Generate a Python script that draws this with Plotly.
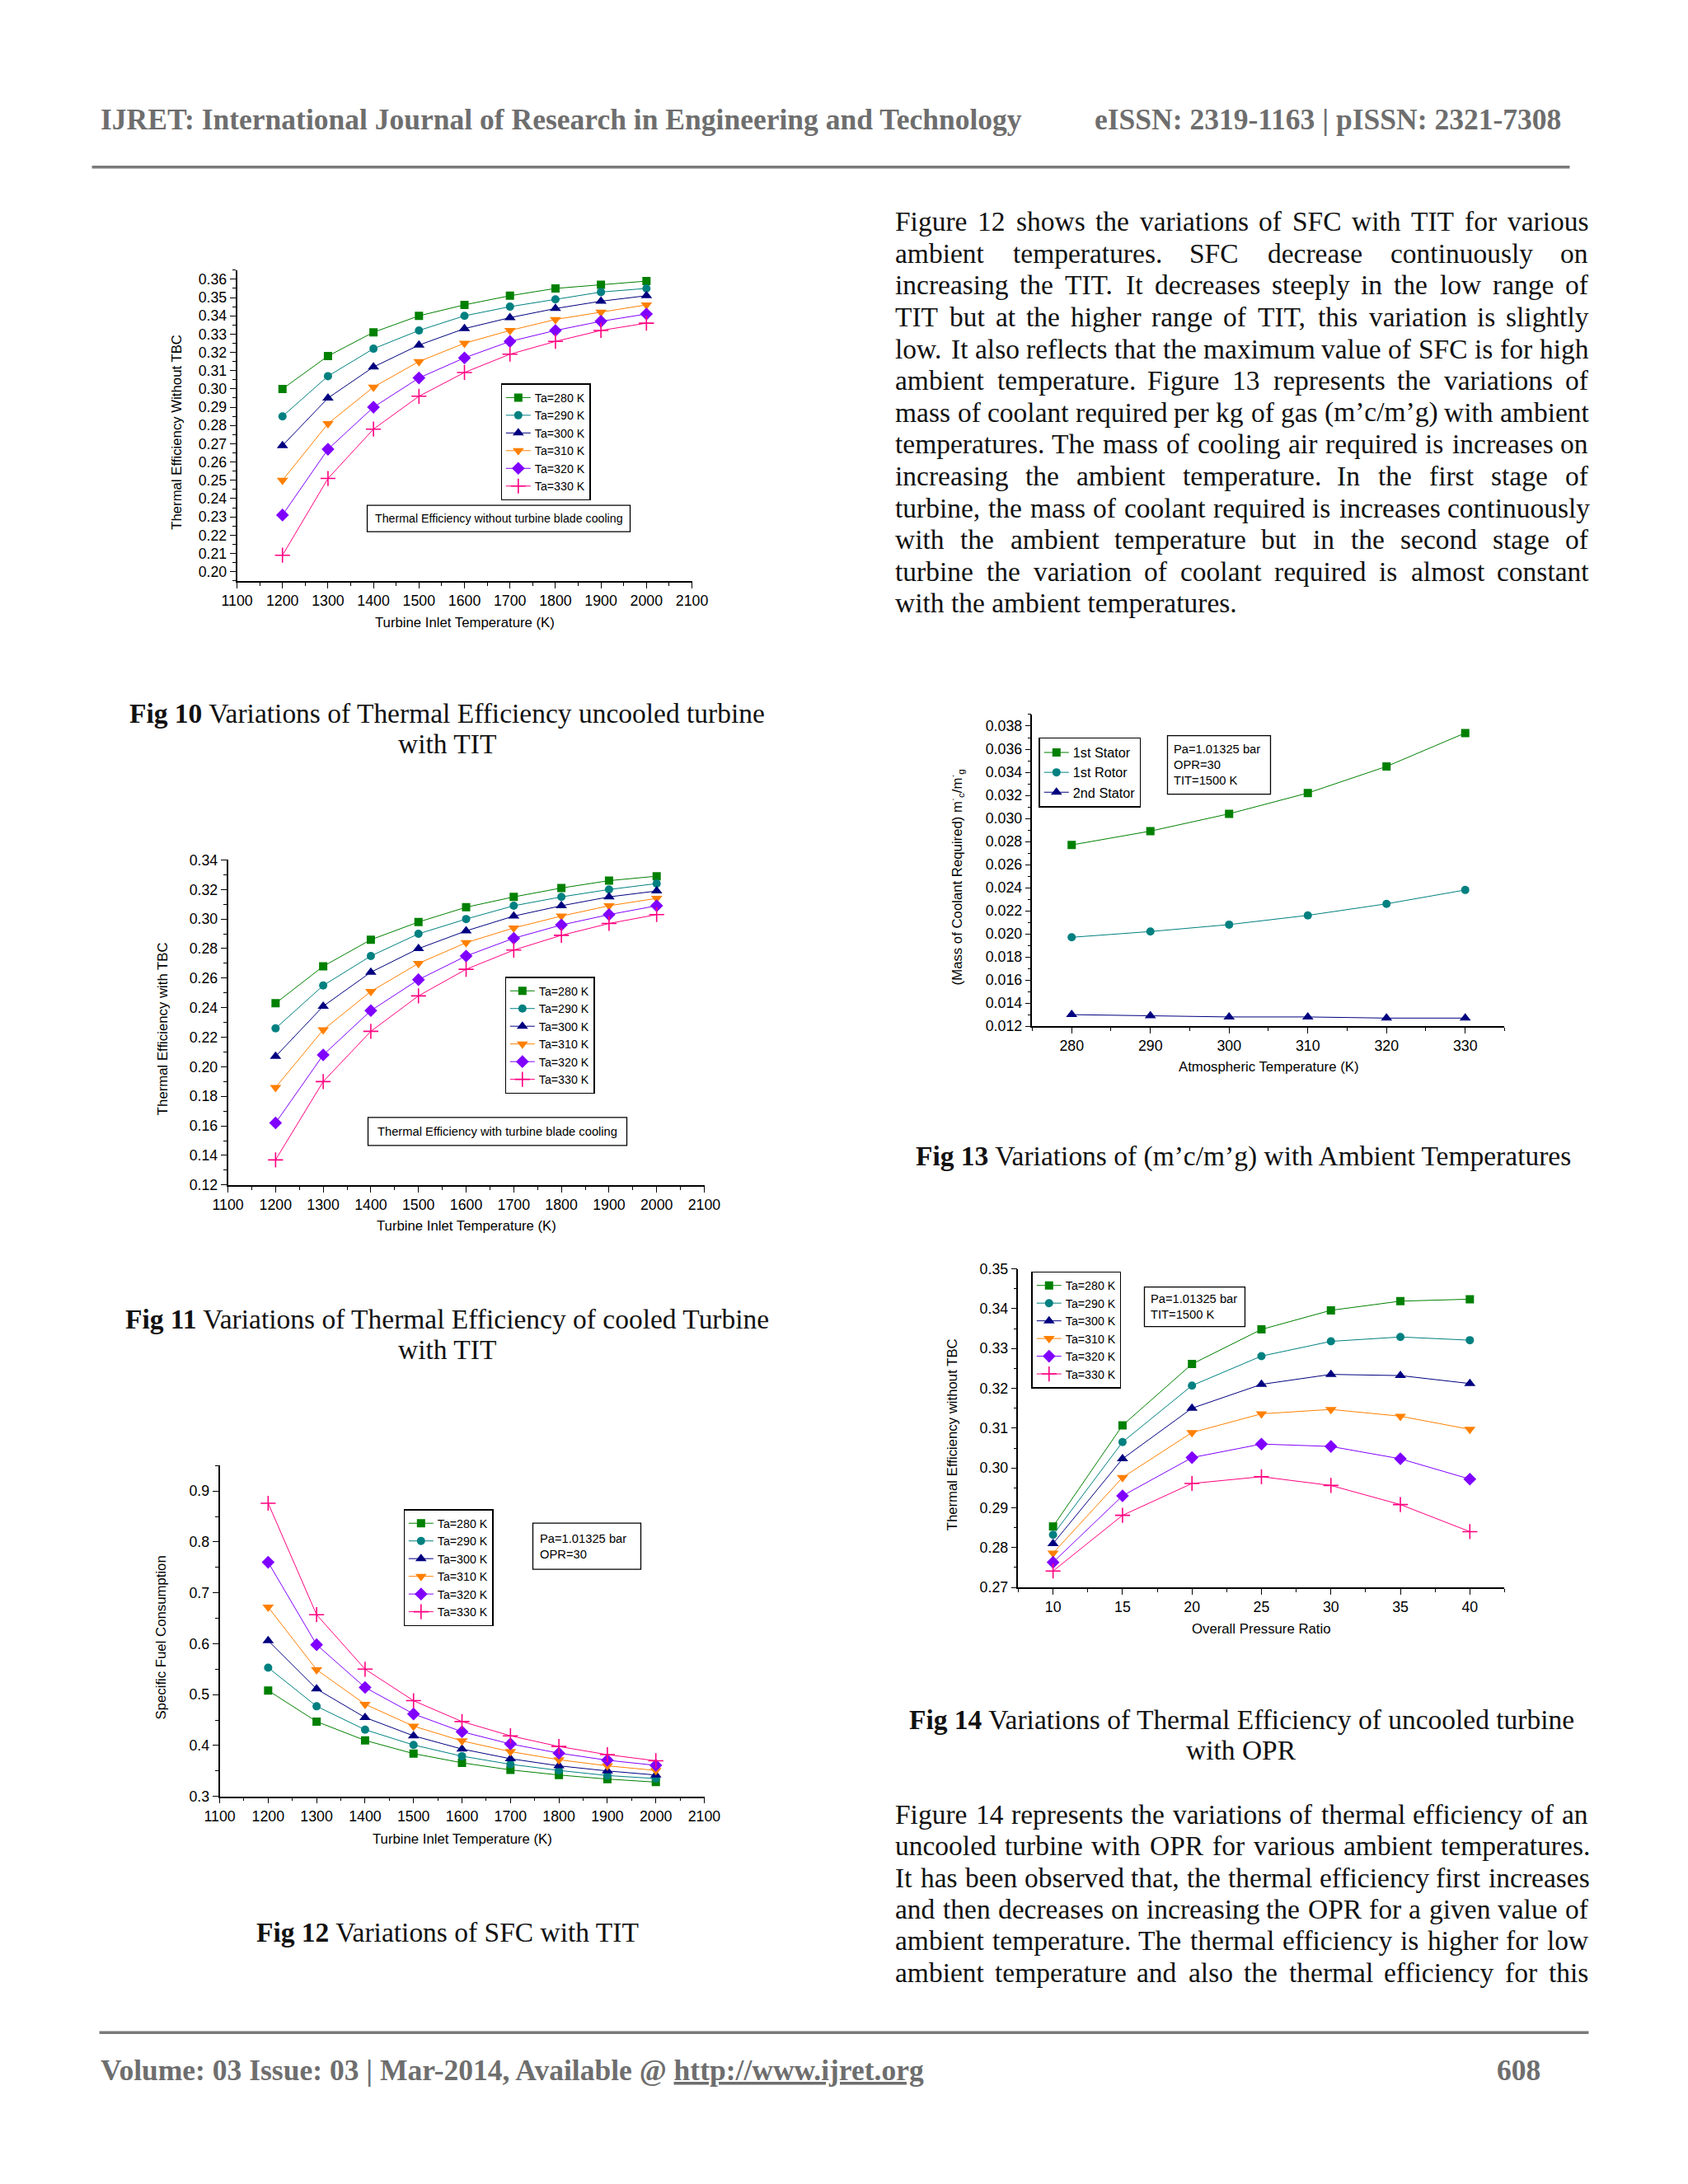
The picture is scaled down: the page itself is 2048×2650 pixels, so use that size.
import plotly.graph_objects as go

# ---------------- data ----------------
tit = [1200, 1300, 1400, 1500, 1600, 1700, 1800, 1900, 2000]
ta_labels = ["Ta=280 K", "Ta=290 K", "Ta=300 K", "Ta=310 K", "Ta=320 K", "Ta=330 K"]

# Fig 10: thermal efficiency without TBC (uncooled) vs TIT
eff_unc_280 = [0.300, 0.318, 0.331, 0.340, 0.346, 0.351, 0.355, 0.357, 0.359]
eff_unc_290 = [0.285, 0.307, 0.322, 0.332, 0.340, 0.345, 0.349, 0.353, 0.355]
eff_unc_300 = [0.269, 0.295, 0.312, 0.324, 0.333, 0.339, 0.344, 0.348, 0.351]
eff_unc_310 = [0.250, 0.281, 0.301, 0.315, 0.325, 0.332, 0.338, 0.342, 0.346]
eff_unc_320 = [0.231, 0.267, 0.290, 0.306, 0.317, 0.326, 0.332, 0.337, 0.341]
eff_unc_330 = [0.209, 0.251, 0.278, 0.296, 0.309, 0.319, 0.326, 0.332, 0.336]

# Fig 11: thermal efficiency with TBC (cooled) vs TIT
eff_cool_280 = [0.243, 0.268, 0.286, 0.298, 0.308, 0.315, 0.321, 0.326, 0.329]
eff_cool_290 = [0.226, 0.255, 0.275, 0.290, 0.300, 0.309, 0.315, 0.320, 0.324]
eff_cool_300 = [0.207, 0.241, 0.264, 0.280, 0.292, 0.302, 0.309, 0.315, 0.319]
eff_cool_310 = [0.186, 0.225, 0.251, 0.270, 0.284, 0.294, 0.302, 0.309, 0.314]
eff_cool_320 = [0.162, 0.208, 0.238, 0.259, 0.275, 0.287, 0.296, 0.303, 0.309]
eff_cool_330 = [0.137, 0.190, 0.224, 0.248, 0.266, 0.279, 0.289, 0.297, 0.303]

# Fig 12: specific fuel consumption vs TIT
sfc_280 = [0.508, 0.447, 0.410, 0.384, 0.366, 0.352, 0.342, 0.334, 0.328]
sfc_290 = [0.553, 0.477, 0.431, 0.401, 0.379, 0.363, 0.351, 0.341, 0.335]
sfc_300 = [0.606, 0.511, 0.455, 0.419, 0.393, 0.374, 0.360, 0.350, 0.342]
sfc_310 = [0.672, 0.549, 0.481, 0.438, 0.409, 0.388, 0.372, 0.360, 0.351]
sfc_320 = [0.760, 0.598, 0.514, 0.462, 0.427, 0.403, 0.385, 0.371, 0.361]
sfc_330 = [0.876, 0.657, 0.550, 0.488, 0.447, 0.419, 0.398, 0.382, 0.370]

# Fig 13: coolant mass ratio vs atmospheric temperature
atm_temp = [280, 290, 300, 310, 320, 330]
stage_labels = ["1st Stator", "1st Rotor", "2nd Stator"]
cool_stator1 = [0.0277, 0.0289, 0.0304, 0.0322, 0.0345, 0.0374]
cool_rotor1 = [0.0197, 0.0202, 0.0208, 0.0216, 0.0226, 0.0238]
cool_stator2 = [0.0130, 0.0129, 0.0128, 0.0128, 0.0127, 0.0127]

# Fig 14: thermal efficiency (uncooled) vs OPR
opr = [10, 15, 20, 25, 30, 35, 40]
opr_280 = [0.2853, 0.3107, 0.3261, 0.3348, 0.3396, 0.3419, 0.3424]
opr_290 = [0.2832, 0.3065, 0.3207, 0.3281, 0.3318, 0.3329, 0.3321]
opr_300 = [0.2810, 0.3023, 0.3150, 0.3210, 0.3235, 0.3232, 0.3212]
opr_310 = [0.2786, 0.2976, 0.3089, 0.3136, 0.3147, 0.3130, 0.3097]
opr_320 = [0.2763, 0.2930, 0.3026, 0.3060, 0.3054, 0.3023, 0.2972]
opr_330 = [0.2741, 0.2881, 0.2961, 0.2978, 0.2956, 0.2908, 0.2840]

# ---------------- page geometry helpers ----------------
W, H = 2048, 2650
SX, SY = 0.981, 0.994          # spread so the photographed page lines up
def fx(p):
    return ((p - W / 2) / SX + W / 2) / W
def fy(p):
    return 1 - ((p - H / 2) / SY + H / 2) / H
FS = 1.015                      # font scale to match the photographed size
def f(v):
    return round(v * FS, 2)

SANS = "Liberation Sans"
SERIF = "Liberation Serif"
GRAY = "#6e6e6e"
TICK_FS = f(17.5)
TITLE_FS = f(16.5)

STYLES = [
    ("#008000", "square", 10),
    ("#008080", "circle", 10),
    ("#000080", "triangle-up", 12),
    ("#FF8000", "triangle-down", 12),
    ("#8000FF", "diamond", 12),
    ("#FF0080", "cross-thin", 13),
]

panels = [
    dict(xd=(288, 840), yd=(326, 704), xr=[1100, 2100], yr=[0.1949, 0.3651],
         xdt=100, xmn=50, ydt=0.01, ymn=0.005, yfmt=".2f",
         x=tit, series=[eff_unc_280, eff_unc_290, eff_unc_300, eff_unc_310, eff_unc_320, eff_unc_330],
         names=ta_labels, leg=(608, 464), legfs=14,
         ytitle="Thermal Efficiency Without TBC", ytx=215,
         xtitle="Turbine Inlet Temperature (K)", xty=755),
    dict(xd=(277, 855), yd=(1043, 1438), xr=[1100, 2100], yr=[0.12, 0.34],
         xdt=100, xmn=50, ydt=0.02, ymn=0.01, yfmt=".2f",
         x=tit, series=[eff_cool_280, eff_cool_290, eff_cool_300, eff_cool_310, eff_cool_320, eff_cool_330],
         names=ta_labels, leg=(613, 1185), legfs=14,
         ytitle="Thermal Efficiency with TBC", ytx=198,
         xtitle="Turbine Inlet Temperature (K)", xty=1488),
    dict(xd=(267, 855), yd=(1779, 2181), xr=[1100, 2100], yr=[0.3, 0.95],
         xdt=100, xmn=50, ydt=0.1, ymn=0.05, yfmt=".1f",
         x=tit, series=[sfc_280, sfc_290, sfc_300, sfc_310, sfc_320, sfc_330],
         names=ta_labels, leg=(490, 1832), legfs=14,
         ytitle="Specific Fuel Consumption", ytx=196,
         xtitle="Turbine Inlet Temperature (K)", xty=2233),
    dict(xd=(1253, 1826), yd=(866, 1245), xr=[275, 335], yr=[0.012, 0.03902],
         xdt=10, xmn=5, ydt=0.002, ymn=0.001, yfmt=".3f",
         x=atm_temp, series=[cool_stator1, cool_rotor1, cool_stator2],
         names=stage_labels, leg=(1261, 894), legfs=16,
         ytitle="(Mass of Coolant Required) m<sup>·</sup><sub>c</sub>/m<sup>·</sup><sub>g</sub>", ytx=1161,
         xtitle="Atmospheric Temperature (K)", xty=1294),
    dict(xd=(1236, 1826), yd=(1540, 1927), xr=[7.5, 42.5], yr=[0.27, 0.35],
         xdt=5, xmn=2.5, ydt=0.01, ymn=0.005, yfmt=".2f",
         x=opr, series=[opr_280, opr_290, opr_300, opr_310, opr_320, opr_330],
         names=ta_labels, leg=(1252, 1543), legfs=14,
         ytitle="Thermal Efficiency without TBC", ytx=1156,
         xtitle="Overall Pressure Ratio", xty=1978),
]

fig = go.Figure()
layout = dict(
    width=W, height=H, margin=dict(l=0, r=0, t=0, b=0),
    paper_bgcolor="white", plot_bgcolor="white",
    font=dict(family=SANS, color="black", size=16),
    showlegend=True,
)
annotations = []
shapes = []

def axname(i):
    return "" if i == 1 else str(i)

for k, p in enumerate(panels, start=1):
    m = k + 5
    xa_main = "x" + axname(k)
    ya_main = "y" + axname(k)
    legname = "legend" + axname(k)
    base = dict(showline=True, linecolor="black", linewidth=1.6, showgrid=False,
                zeroline=False, tickcolor="black", tickwidth=1.3, ticklen=7)
    layout["xaxis" + axname(k)] = dict(
        base, domain=[fx(p["xd"][0]), fx(p["xd"][1])], range=p["xr"], anchor=ya_main,
        ticks="outside", dtick=p["xdt"], tick0=0,
        tickfont=dict(family=SANS, size=TICK_FS, color="black"),
        minor=dict(dtick=p["xmn"], tick0=0, ticks="outside", ticklen=4, tickcolor="black", tickwidth=1.3, showgrid=False),
    )
    layout["yaxis" + axname(k)] = dict(
        base, domain=[fy(p["yd"][1]), fy(p["yd"][0])], range=p["yr"], anchor=xa_main,
        ticks="outside", dtick=p["ydt"], tick0=0, tickformat=p["yfmt"],
        tickfont=dict(family=SANS, size=TICK_FS, color="black"),
        minor=dict(dtick=p["ymn"], tick0=0, ticks="outside", ticklen=4, tickcolor="black", tickwidth=1.3, showgrid=False),
    )
    # mirrored top / right axes with inward ticks
    layout["xaxis" + str(m)] = dict(
        base, overlaying=xa_main, side="top", anchor=ya_main, range=p["xr"],
        ticks="inside", dtick=p["xdt"], tick0=0, showticklabels=False,
        minor=dict(dtick=p["xmn"], tick0=0, ticks="inside", ticklen=4, tickcolor="black", tickwidth=1.3, showgrid=False),
    )
    layout["yaxis" + str(m)] = dict(
        base, overlaying=ya_main, side="right", anchor=xa_main, range=p["yr"],
        ticks="inside", dtick=p["ydt"], tick0=0, showticklabels=False,
        minor=dict(dtick=p["ymn"], tick0=0, ticks="inside", ticklen=4, tickcolor="black", tickwidth=1.3, showgrid=False),
    )

    for s, (vals, name) in enumerate(zip(p["series"], p["names"])):
        color, symbol, size = STYLES[s]
        mk = dict(symbol=symbol, size=size, color=color)
        if symbol == "cross-thin":
            mk["line"] = dict(color=color, width=1.6)
        fig.add_trace(go.Scatter(
            x=p["x"], y=vals, mode="lines+markers", name=name,
            line=dict(color=color, width=1), marker=mk,
            xaxis=xa_main, yaxis=ya_main, legend=legname,
        ))
    layout[legname] = dict(
        x=fx(p["leg"][0]), y=fy(p["leg"][1]), xanchor="left", yanchor="top",
        bgcolor="white", bordercolor="black", borderwidth=1.3,
        font=dict(family=SANS, size=f(p["legfs"]), color="black"),
        tracegroupgap=0, traceorder="normal",
    )
    # axis titles
    annotations.append(dict(text=p["ytitle"], x=fx(p["ytx"]), y=fy((p["yd"][0] + p["yd"][1]) / 2 + 8),
                            xref="paper", yref="paper", textangle=-90, showarrow=False,
                            xanchor="center", yanchor="middle", font=dict(family=SANS, size=TITLE_FS, color="black")))
    annotations.append(dict(text=p["xtitle"], x=fx((p["xd"][0] + p["xd"][1]) / 2), y=fy(p["xty"]),
                            xref="paper", yref="paper", showarrow=False,
                            xanchor="center", yanchor="middle", font=dict(family=SANS, size=TITLE_FS, color="black")))

# text boxes inside charts
boxes = [
    ((446, 612, 765, 644), "Thermal Efficiency without turbine blade cooling", "center", 14),
    ((447, 1356, 761, 1390), "Thermal Efficiency with turbine blade cooling", "center", 14.5),
    ((647, 1849, 778, 1905), "Pa=1.01325 bar<br>OPR=30", "left", 14.5),
    ((1417, 892, 1542, 963), "Pa=1.01325 bar<br>OPR=30<br>TIT=1500 K", "left", 14.5),
    ((1389, 1562, 1511, 1610), "Pa=1.01325 bar<br>TIT=1500 K", "left", 14.5),
]
for (x0, y0, x1, y1), txt, al, fs in boxes:
    shapes.append(dict(type="rect", xref="paper", yref="paper", x0=fx(x0), x1=fx(x1), y0=fy(y0), y1=fy(y1),
                       line=dict(color="black", width=1.3), fillcolor="white", layer="above"))
    if al == "center":
        annotations.append(dict(text=txt, x=fx((x0 + x1) / 2), y=fy((y0 + y1) / 2), xref="paper", yref="paper",
                                showarrow=False, xanchor="center", yanchor="middle",
                                font=dict(family=SANS, size=f(fs), color="black")))
    else:
        annotations.append(dict(text=txt, x=fx(x0 + 7), y=fy((y0 + y1) / 2), xref="paper", yref="paper",
                                showarrow=False, xanchor="left", yanchor="middle", align="left", borderpad=0,
                                font=dict(family=SANS, size=f(fs), color="black")))

# ---------------- page text ----------------
TIMES_W = {
    " ": 250, "!": 333, "(": 333, ")": 333, ",": 250, "-": 333, ".": 250, "/": 278, ":": 278, ";": 278,
    "’": 333, "'": 180, "@": 921, "|": 200,
    "A": 722, "B": 667, "C": 667, "D": 722, "E": 611, "F": 556, "G": 722, "H": 722, "I": 333, "J": 389,
    "K": 722, "L": 611, "M": 889, "N": 722, "O": 722, "P": 556, "Q": 722, "R": 667, "S": 556, "T": 611,
    "U": 722, "V": 722, "W": 944, "X": 722, "Y": 722, "Z": 611,
    "a": 444, "b": 500, "c": 444, "d": 500, "e": 444, "f": 333, "g": 500, "h": 500, "i": 278, "j": 278,
    "k": 500, "l": 278, "m": 778, "n": 500, "o": 500, "p": 500, "q": 500, "r": 333, "s": 389, "t": 278,
    "u": 500, "v": 500, "w": 722, "x": 500, "y": 500, "z": 444,
}
BODY_FS = 33
def tw(s):
    # natural width in page pixels of a word at the body size
    return sum(TIMES_W.get(ch, 500) for ch in s) / 1000.0 * BODY_FS

def add_paragraph(lines, x0, x1, ytop, lh, justify_last):
    for i, line in enumerate(lines):
        y = ytop + i * lh
        words = line.split(" ")
        last = (i == len(lines) - 1)
        if (last and not justify_last) or len(words) == 1:
            annotations.append(dict(text=line, x=fx(x0), y=fy(y), xref="paper", yref="paper", showarrow=False,
                                    xanchor="left", yanchor="middle", borderpad=0,
                                    font=dict(family=SERIF, size=f(BODY_FS), color="#111111")))
            continue
        widths = [tw(w) for w in words]
        gap = (x1 - x0 - sum(widths)) / (len(words) - 1)
        xc = x0
        for w, wd in zip(words, widths):
            annotations.append(dict(text=w, x=fx(xc), y=fy(y), xref="paper", yref="paper", showarrow=False,
                                    xanchor="left", yanchor="middle", borderpad=0,
                                    font=dict(family=SERIF, size=f(BODY_FS), color="#111111")))
            xc += wd + gap

para1 = [
    "Figure 12 shows the variations of SFC with TIT for various",
    "ambient temperatures. SFC decrease continuously on",
    "increasing the TIT. It decreases steeply in the low range of",
    "TIT but at the higher range of TIT, this variation is slightly",
    "low. It also reflects that the maximum value of SFC is for high",
    "ambient temperature. Figure 13 represents the variations of",
    "mass of coolant required per kg of gas (m’c/m’g) with ambient",
    "temperatures. The mass of cooling air required is increases on",
    "increasing the ambient temperature. In the first stage of",
    "turbine, the mass of coolant required is increases continuously",
    "with the ambient temperature but in the second stage of",
    "turbine the variation of coolant required is almost constant",
    "with the ambient temperatures.",
]
para2 = [
    "Figure 14 represents the variations of thermal efficiency of an",
    "uncooled turbine with OPR for various ambient temperatures.",
    "It has been observed that, the thermal efficiency first increases",
    "and then decreases on increasing the OPR for a given value of",
    "ambient temperature. The thermal efficiency is higher for low",
    "ambient temperature and also the thermal efficiency for this",
]
add_paragraph(para1, 1086, 1926, 267, 38.67, False)
add_paragraph(para2, 1086, 1926, 2203, 38.4, True)

captions = [
    ("<b>Fig 10</b> Variations of Thermal Efficiency uncooled turbine", 543, 865),
    ("with TIT", 543, 902),
    ("<b>Fig 11</b> Variations of Thermal Efficiency of cooled Turbine", 543, 1601),
    ("with TIT", 543, 1638),
    ("<b>Fig 12</b> Variations of SFC with TIT", 543, 2346),
    ("<b>Fig 13</b> Variations of (m’c/m’g) with Ambient Temperatures", 1509, 1403),
    ("<b>Fig 14</b> Variations of Thermal Efficiency of uncooled turbine", 1507, 2088),
    ("with OPR", 1507, 2125),
]
for txt, cx, cy in captions:
    annotations.append(dict(text=txt, x=fx(cx), y=fy(cy), xref="paper", yref="paper", showarrow=False,
                            xanchor="center", yanchor="middle", borderpad=0,
                            font=dict(family=SERIF, size=f(BODY_FS), color="#111111")))

# header and footer
annotations.append(dict(text="<b>IJRET: International Journal of Research in Engineering and Technology</b>",
                        x=fx(121), y=fy(143), xref="paper", yref="paper", showarrow=False,
                        xanchor="left", yanchor="middle", borderpad=0,
                        font=dict(family=SERIF, size=f(35), color=GRAY)))
annotations.append(dict(text="<b>eISSN: 2319-1163 | pISSN: 2321-7308</b>",
                        x=fx(1896), y=fy(143), xref="paper", yref="paper", showarrow=False,
                        xanchor="right", yanchor="middle", borderpad=0,
                        font=dict(family=SERIF, size=f(35), color=GRAY)))
annotations.append(dict(text="<b>Volume: 03 Issue: 03 | Mar-2014, Available @ <u>http://www.ijret.org</u></b>",
                        x=fx(121), y=fy(2514), xref="paper", yref="paper", showarrow=False,
                        xanchor="left", yanchor="middle", borderpad=0,
                        font=dict(family=SERIF, size=f(35), color=GRAY)))
annotations.append(dict(text="<b>608</b>", x=fx(1843), y=fy(2514), xref="paper", yref="paper", showarrow=False,
                        xanchor="center", yanchor="middle", borderpad=0,
                        font=dict(family=SERIF, size=f(35), color=GRAY)))
shapes.append(dict(type="line", xref="paper", yref="paper", x0=fx(112), x1=fx(1905), y0=fy(201), y1=fy(201),
                   line=dict(color="#7a7a7a", width=3.5)))
shapes.append(dict(type="line", xref="paper", yref="paper", x0=fx(121), x1=fx(1928), y0=fy(2468), y1=fy(2468),
                   line=dict(color="#7a7a7a", width=3.5)))

layout["annotations"] = annotations
layout["shapes"] = shapes
fig.update_layout(**layout)

fig.write_html("out.html", config={"displayModeBar": False},
               post_script="document.body.style.margin='0';document.body.style.padding='0';")
